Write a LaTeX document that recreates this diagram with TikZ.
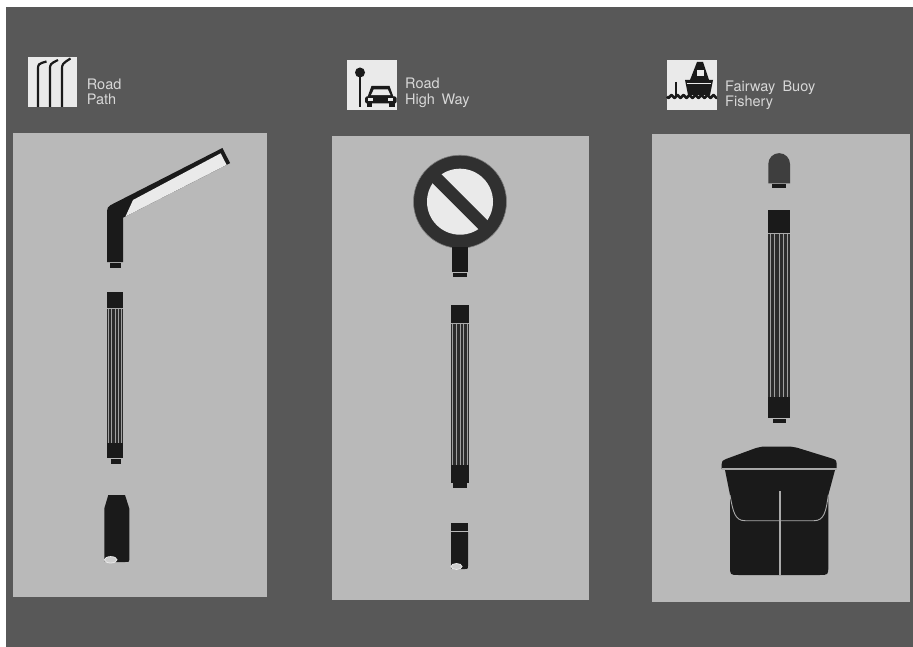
\documentclass[tikz,border=0pt]{standalone}
\usepackage{fontspec}
\setmainfont{TeX Gyre Heros}
\definecolor{bgdark}{RGB}{88,88,88}
\definecolor{panelgray}{RGB}{185,185,185}
\definecolor{ink}{RGB}{26,26,26}
\definecolor{tubedark}{RGB}{44,44,44}
\definecolor{stripe}{RGB}{160,160,160}
\definecolor{rimgray}{RGB}{170,170,170}
\definecolor{labelgray}{RGB}{215,215,215}
\definecolor{iconwhite}{RGB}{234,234,234}
\definecolor{ringdark}{RGB}{48,48,48}
\definecolor{domegray}{RGB}{62,62,62}
% fluted tube between two end blocks: x1, x2, y1, y2
\newcommand{\flutedtube}[4]{%
  \fill[tubedark] (#1,#3) rectangle (#2,#4);
  \foreach \k in {1,...,5}{%
    \draw[stripe, line width=0.7] ({#1+(#2-#1)*(\k-0.5)/5},#3) -- ({#1+(#2-#1)*(\k-0.5)/5},#4);}
  \draw[rimgray, line width=0.9] (#1,#3+0.4) -- (#2,#3+0.4);
}
\begin{document}
\begin{tikzpicture}[x=1pt,y=-1pt,
  caption/.style={font=\fontsize{14.5}{16}\selectfont, text=labelgray, inner sep=0pt, anchor=base west}]
\useasboundingbox (0,0) rectangle (913,647);
\fill[white] (0,0) rectangle (913,647);
\fill[bgdark] (6,7) rectangle (913,647);

% panels
\fill[panelgray] (12.5,133) rectangle (266.5,597);
\fill[panelgray] (332,136.5) rectangle (589,600);
\fill[panelgray] (652,134) rectangle (910,602);

% ---- captions
\node[caption] (t1a) at (86.7,89.5) {Road};
\node[caption] (t1b) at (86.7,105) {Path};
\node[caption] (t2a) at (405,89) {Road};
\node[caption] (t2b) at (405,105) {High\hspace{0.45em}Way};
\node[caption] (t3a) at (725,91.5) {Fairway\hspace{0.5em}Buoy};
\node[caption] (t3b) at (725,106.5) {Fishery};

% ---- icon: street lamps
\fill[iconwhite] (28,57) rectangle (77,107);
\foreach \px/\tx/\ty in {38/46.5/61.5, 50/58/60, 62/70.5/58.5}
  \draw[ink, line width=2.2] (\px,107) -- (\px,70) .. controls (\px,64) .. (\tx,\ty);

% ---- icon: sign and car
\fill[iconwhite] (347,60) rectangle (397,110);
\fill[ink] (360,72.5) circle [radius=5];
\draw[ink, line width=2] (360,75) -- (360,107);
\fill[ink] (371.5,86) -- (389.5,86) -- (393.5,97) -- (367.5,97) -- cycle;
\fill[ink, rounded corners=1.5] (365,96.5) rectangle (396.5,103.5);
\fill[iconwhite] (373.8,89.3) -- (387.8,89.3) -- (390.5,95.2) -- (371,95.2) -- cycle;
\fill[iconwhite] (368.3,98.5) rectangle (373.3,100.7);
\fill[iconwhite] (388.3,98.5) rectangle (393.3,100.7);
\fill[ink] (366.7,103) rectangle (372.3,107.3);
\fill[ink] (389,103) rectangle (394.6,107.3);

% ---- icon: boat on water
\fill[iconwhite] (667,60) rectangle (717,110);
\draw[ink, line width=1.8] (676,82) -- (676,96);
\fill[ink] (697,62) -- (703,62) -- (709,80) -- (690,80) -- cycle;
\fill[iconwhite] (696.5,70) rectangle (703.5,76);
\fill[ink] (685,80) -- (713,80) -- (710,95) -- (688,95) -- cycle;
\draw[iconwhite, line width=1] (687,84) -- (711,84);
\draw[ink, line width=2.6] plot[domain=0:50, samples=80] ({667+\x},{96.5+1.3*sin(\x*60)});

% ================= panel 1: path lamp
% bent lamp head
\fill[ink] (107,262) -- (107,215.5) .. controls (107,206.9) .. (114.7,203.0)
  -- (222.4,148) -- (230.1,163.1) -- (123,217.7) -- (123,262) -- cycle;
\fill[iconwhite] (125.5,216.5) -- (226.6,164.9) -- (220.7,153.3) -- (133,200) -- cycle;
\fill[ink] (109.5,263.3) rectangle (120.5,267.5);
% column
\fill[ink] (107,292) rectangle (123,308);
\flutedtube{107}{123}{308}{443}
\fill[ink] (107,443) rectangle (123,458);
\fill[ink] (110.5,458.8) rectangle (120.5,464);
% foot
\fill[ink] (108.3,495) -- (125,495) -- (129.3,508.5) -- (129.3,558)
  .. controls (129.3,562) .. (125.3,562) -- (108.3,562)
  .. controls (104.3,562) .. (104.3,558) -- (104.3,508.5) -- cycle;
\filldraw[draw=iconwhite, fill=panelgray!70!white, line width=0.8] (110.7,559.8) ellipse [x radius=6.3, y radius=3.2];

% ================= panel 2: road sign
\fill[ringdark] (460,201.7) circle [radius=46.5];
\draw[gray, line width=0.6] (460,201.7) circle [radius=46.5];
\fill[iconwhite] (460,201.7) circle [radius=33];
\draw[ringdark, line width=12.5] (435,176.7) -- (485,226.7);
\fill[ink] (451.7,247) rectangle (468.3,272);
\fill[ink] (453,272.8) rectangle (467,277.3);
% column
\fill[ink] (451,305) rectangle (469,323);
\flutedtube{451}{469}{323}{465}
\fill[ink] (451,465) rectangle (469,482.7);
\fill[ink] (453,483.3) rectangle (467,487.5);
% foot
\fill[ink] (451,523) rectangle (468,531);
\fill[ink] (451,532) -- (468,532) -- (468,566) .. controls (468,569) .. (465,569)
  -- (454,569) .. controls (451,569) .. (451,566) -- cycle;
\filldraw[draw=iconwhite, fill=panelgray!70!white, line width=0.8] (456.5,566.5) ellipse [x radius=5.5, y radius=3];

% ================= panel 3: buoy
\fill[domegray] (768.3,183.3) -- (768.3,164) arc[start angle=180, end angle=360, radius=10.85] -- (790,183.3) -- cycle;
\fill[ink] (772,183.8) rectangle (786,188.3);
% column
\fill[ink] (768.3,210) rectangle (790,233.3);
\flutedtube{768.3}{790}{233.3}{396.7}
\fill[ink] (768.3,396.7) rectangle (790,418.3);
\fill[ink] (772.7,418.8) rectangle (785.7,423.3);
% float body with lid
\fill[ink] (721.7,469) -- (721.7,464) .. controls (722,461) .. (726,459) -- (756,448)
  .. controls (759,447) .. (762,446.7) -- (791,446.7) .. controls (794,446.7) .. (797,447.7)
  -- (832,458.5) .. controls (836,460) .. (836.7,464) -- (836.7,469) -- cycle;
\fill[ink] (725,470) -- (835,470) -- (828.3,495) -- (828.3,566) .. controls (828.3,575) .. (819.3,575)
  -- (739,575) .. controls (730,575) .. (730,566) -- (730,495) -- cycle;
\draw[rimgray, line width=1.2] (722,468.3) -- (836.5,468.3);
\draw[rimgray, line width=0.9] (730,495) .. controls (733,512) and (735,520.7) .. (745,520.7)
  -- (814,520.7) .. controls (824,520.7) and (826,512) .. (828.3,495);
\draw[rimgray, line width=1.1] (780,491) -- (780,575);
\end{tikzpicture}
\end{document}
